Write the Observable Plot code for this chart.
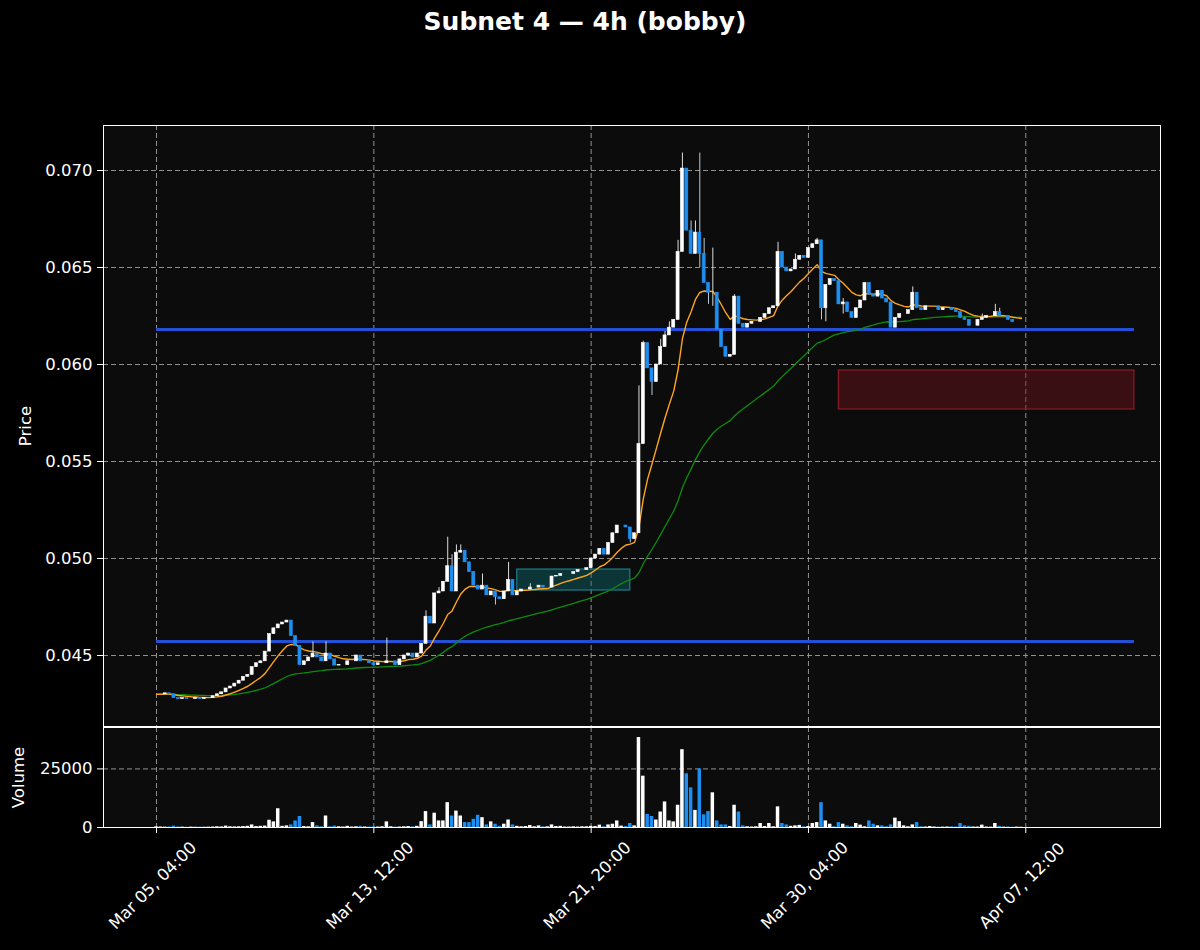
<!DOCTYPE html>
<html><head><meta charset="utf-8">
<script src="https://cdn.jsdelivr.net/npm/d3@7"></script>
<script src="https://cdn.jsdelivr.net/npm/@observablehq/plot@0.6"></script>
<style>
body{margin:0;background:#000;}
#wrap{position:relative;width:1200px;height:950px;background:#000;font-family:"DejaVu Sans",sans-serif;overflow:hidden;}
#title{position:absolute;top:7px;left:-15px;width:1200px;text-align:center;color:#fff;font-weight:bold;font-size:25px;line-height:30px;z-index:2;}
#price{position:absolute;top:0;left:0;z-index:1;}
#vol{position:absolute;top:727px;left:0;z-index:1;}
</style></head><body>
<div id="wrap"><div id="title">Subnet 4 — 4h (bobby)</div><div id="price"></div><div id="vol"></div></div>
<script>
// ---- data (4h candles, index 0 = Mar 05 04:00) ----
const startOpen = 0.0430;
const closes = [
0.0430,0.0430,0.04305,0.0430,0.0428,0.04275,0.0428,0.04275,0.04275,0.0428,
0.04275,0.0428,0.0428,0.0429,0.0430,0.0431,0.0433,0.0434,0.04355,0.0437,
0.0439,0.0440,0.0444,0.0446,0.0447,0.0452,0.0461,0.0464,0.0466,0.0467,
0.0468,0.0460,0.0455,0.0445,0.0447,0.0449,0.0451,0.0449,0.0447,0.0451,
0.0448,0.04448,0.0445,0.0445,0.0447,0.0447,0.0450,0.0447,0.0447,0.0446,
0.0445,0.0446,0.0446,0.0447,0.0447,0.0445,0.0448,0.0450,0.0451,0.0449,
0.0451,0.0456,0.0470,0.04665,0.0482,0.0483,0.0488,0.0496,0.0483,0.0503,
0.0504,0.0498,0.0493,0.0486,0.0484,0.0486,0.0481,0.0483,0.0480,0.0479,
0.0483,0.0489,0.0481,0.0483,0.0484,0.0484,0.0485,0.0485,0.0486,0.0485,
0.0485,0.04907,0.0491,0.0492,0.0492,0.0492,0.0493,0.0494,0.0494,0.0495,
0.0500,0.0502,0.0505,0.0502,0.0508,0.0513,0.0517,0.0517,0.0516,0.0510,
0.0513,0.0559,0.0611,0.0598,0.0591,0.0600,0.0609,0.0615,0.0619,0.0623,
0.0658,0.0701,0.0669,0.0657,0.0668,0.0657,0.0642,0.0637,0.0637,0.0618,
0.0609,0.0604,0.0605,0.0635,0.0621,0.0619,0.0621,0.0622,0.0622,0.0624,
0.0626,0.0629,0.0630,0.0658,0.0650,0.0648,0.0649,0.0654,0.0656,0.0655,
0.0660,0.0662,0.0664,0.0629,0.0641,0.0644,0.0643,0.0631,0.0632,0.0627,
0.0624,0.0629,0.0633,0.0642,0.0636,0.0635,0.0638,0.0634,0.0632,0.0619,
0.0624,0.0626,0.0626,0.0628,0.0637,0.0629,0.0628,0.0630,0.0630,0.0630,
0.0628,0.0629,0.0629,0.0628,0.0627,0.0624,0.0623,0.0620,0.0620,0.0623,
0.0624,0.0625,0.0625,0.0627,0.0625,0.0625,0.0623,0.0622,0.0622,0.0622];
// upper / lower wick extremes where they extend beyond the body: [index, price]
const wickHighs = [[36,0.0457],[39,0.0457],[53,0.0459],[62,0.0473],[65,0.0485],[67,0.0511],[68,0.0502],[69,0.0507],[70,0.0507],[75,0.0492],[81,0.0498],[86,0.0487],[111,0.0589],[112,0.0612],[116,0.0613],[117,0.0617],[118,0.0622],[120,0.0664],[121,0.0709],[123,0.0674],[124,0.0674],[125,0.0709],[126,0.0665],[128,0.0660],[133,0.0636],[143,0.0663],[147,0.0657],[152,0.0665],[158,0.0634],[174,0.0640],[190,0.0626],[193,0.0631],[194,0.0629]];
const wickLows = [[78,0.0476],[109,0.0508],[114,0.0584],[125,0.0650],[127,0.0631],[128,0.0630],[153,0.0623],[154,0.0622],[158,0.0626]];
const volumes = [
300,200,150,200,600,200,150,100,150,100,
150,100,150,200,300,250,600,300,250,300,
400,500,1100,400,500,600,3100,2400,8000,500,
700,1100,2800,4700,400,300,2100,700,300,4900,
300,600,300,200,500,200,300,500,200,200,
300,200,300,2400,300,200,200,300,400,300,
500,2500,6800,1100,6100,2800,2800,10600,4900,7000,
4900,2100,2100,3500,5200,4200,1100,2400,1400,500,
1400,3200,1100,500,300,400,850,300,700,300,
300,1100,400,500,200,200,300,200,300,300,
500,400,1000,300,1100,1400,2800,600,400,1700,
700,38400,21900,5600,4700,3200,6600,10900,2800,2400,
9500,33200,22900,16900,7300,25000,5400,6800,14800,2800,
1100,1100,400,9500,6600,700,300,200,300,1700,
400,1700,300,8800,1700,1100,500,700,900,300,
400,1700,2100,10600,2800,1400,300,2100,1400,700,
300,1700,1000,300,2800,1400,700,700,300,1100,
4000,2500,700,300,1100,2100,300,200,400,200,
200,150,200,300,200,1700,700,500,200,200,
1000,200,150,1700,500,150,200,100,150,100];
const emaFast = 12, emaSlow = 50;           // moving-average spans (orange, green)
const levels = [0.04572, 0.06180];          // horizontal support / resistance
const levelSpan = [0, 225];                  // candle-index range of the levels
const zoneNames = ["demand", "supply"];
const zoneX1 = [83, 157];
const zoneX2 = [109, 225];
const zoneLow = [0.04835, 0.05768];
const zoneHigh = [0.04943, 0.05969];
const priceTicks = [0.045, 0.050, 0.055, 0.060, 0.065, 0.070];
const volumeTicks = [0, 25000];
const xTickIdx = [0, 50, 100, 150, 200];
const xTickLabels = ["Mar 05, 04:00", "Mar 13, 12:00", "Mar 21, 20:00", "Mar 30, 04:00", "Apr 07, 12:00"];

// ---- build table ----
const hiMap = new Map(wickHighs), loMap = new Map(wickLows);
const candles = closes.map((c, i) => {
  const o = i === 0 ? startOpen : closes[i - 1];
  return {
    i, open: o, close: c,
    high: Math.max(o, c, hiMap.has(i) ? hiMap.get(i) : -Infinity),
    low: Math.min(o, c, loMap.has(i) ? loMap.get(i) : Infinity),
    vol: volumes[i], up: c >= o
  };
});
const zones = zoneNames.map((n, k) => ({name: n, x1: zoneX1[k], x2: zoneX2[k], y1: zoneLow[k], y2: zoneHigh[k]}));

// exponential moving average as a window reducer over the full history
const emaReducer = span => vals => {
  const a = 2 / (span + 1);
  let e = vals[0];
  for (let j = 1; j < vals.length; ++j) e = a * vals[j] + (1 - a) * e;
  return e;
};

const UP = "#ffffff", DOWN = "#1e8ff0";
const GRID = {stroke: "#a0a0a0", strokeDasharray: "5,3", strokeWidth: 0.9};
const xScale = {type: "linear", domain: [-12.2, 231]};
const common = {width: 1200, marginLeft: 103, marginRight: 40,
  style: {background: "transparent", color: "white", fontFamily: "DejaVu Sans, sans-serif", fontSize: "16.5px"}};

const price = Plot.plot({
  ...common, height: 727, marginTop: 125, marginBottom: 1,
  x: {...xScale, axis: null},
  y: {domain: [0.04134, 0.07232], axis: null},
  marks: [
    Plot.frame({fill: "#0c0c0c", stroke: null}),
    Plot.ruleY(priceTicks, GRID),
    Plot.ruleX(xTickIdx, GRID),
    Plot.rect(zones, {x1: "x1", x2: "x2", y1: "y1", y2: "y2",
      fill: d => d.name === "demand" ? "#0f6f78" : "#7a1620", fillOpacity: 0.42,
      stroke: d => d.name === "demand" ? "#1a7f88" : "#8a1c26", strokeWidth: 1.2}),
    Plot.ruleY(levels, {x1: levelSpan[0], x2: levelSpan[1], stroke: "#2450d8", strokeWidth: 3}),
    Plot.lineY(candles, Plot.windowY({k: closes.length, anchor: "end", reduce: emaReducer(emaSlow)}, {x: "i", y: "close", stroke: "#0f8a0f", strokeWidth: 1.3})),
    Plot.lineY(candles, Plot.windowY({k: closes.length, anchor: "end", reduce: emaReducer(emaFast)}, {x: "i", y: "close", stroke: "#ffa51c", strokeWidth: 1.4})),
    Plot.ruleX(candles, {x: "i", y1: "low", y2: "high", stroke: d => d.up ? "#dcdcdc" : "#b8c8d8", strokeWidth: 1}),
    Plot.rect(candles, {x1: d => d.i - 0.35, x2: d => d.i + 0.35, y1: "open", y2: "close",
      fill: d => d.up ? UP : DOWN, stroke: d => d.up ? UP : DOWN, strokeWidth: 0.6}),
    Plot.axisY({ticks: priceTicks, tickFormat: d3.format(".3f"), tickSize: 6, tickPadding: 5, label: null}),
    Plot.text(["Price"], {frameAnchor: "left", dx: -78, rotate: -90, textAnchor: "middle", fill: "white", fontSize: 16.5}),
    Plot.frame({stroke: "white", strokeWidth: 1})
  ]
});
document.getElementById("price").appendChild(price);

const vol = Plot.plot({
  ...common, height: 223, marginTop: 0, marginBottom: 123,
  x: {...xScale},
  y: {domain: [0, 42672], axis: null},
  marks: [
    Plot.frame({fill: "#0c0c0c", stroke: null}),
    Plot.ruleY([25000], GRID),
    Plot.ruleX(xTickIdx, GRID),
    Plot.rect(candles, {x1: d => d.i - 0.4, x2: d => d.i + 0.4, y1: 0, y2: "vol", fill: d => d.up ? UP : DOWN}),
    Plot.axisY({ticks: volumeTicks, tickFormat: d => String(d), tickSize: 6, tickPadding: 5, label: null}),
    Plot.axisX({ticks: xTickIdx, tickFormat: () => "", tickSize: 6, label: null}),
    Plot.text(xTickIdx, {x: d => d, text: (d, k) => xTickLabels[k], frameAnchor: "bottom", dy: 62, rotate: -45, textAnchor: "middle", fill: "white", fontSize: 16.5}),
    Plot.text(["Volume"], {frameAnchor: "left", dx: -85, rotate: -90, textAnchor: "middle", fill: "white", fontSize: 16.5}),
    Plot.frame({stroke: "white", strokeWidth: 1})
  ]
});
document.getElementById("vol").appendChild(vol);
</script>
</body></html>
